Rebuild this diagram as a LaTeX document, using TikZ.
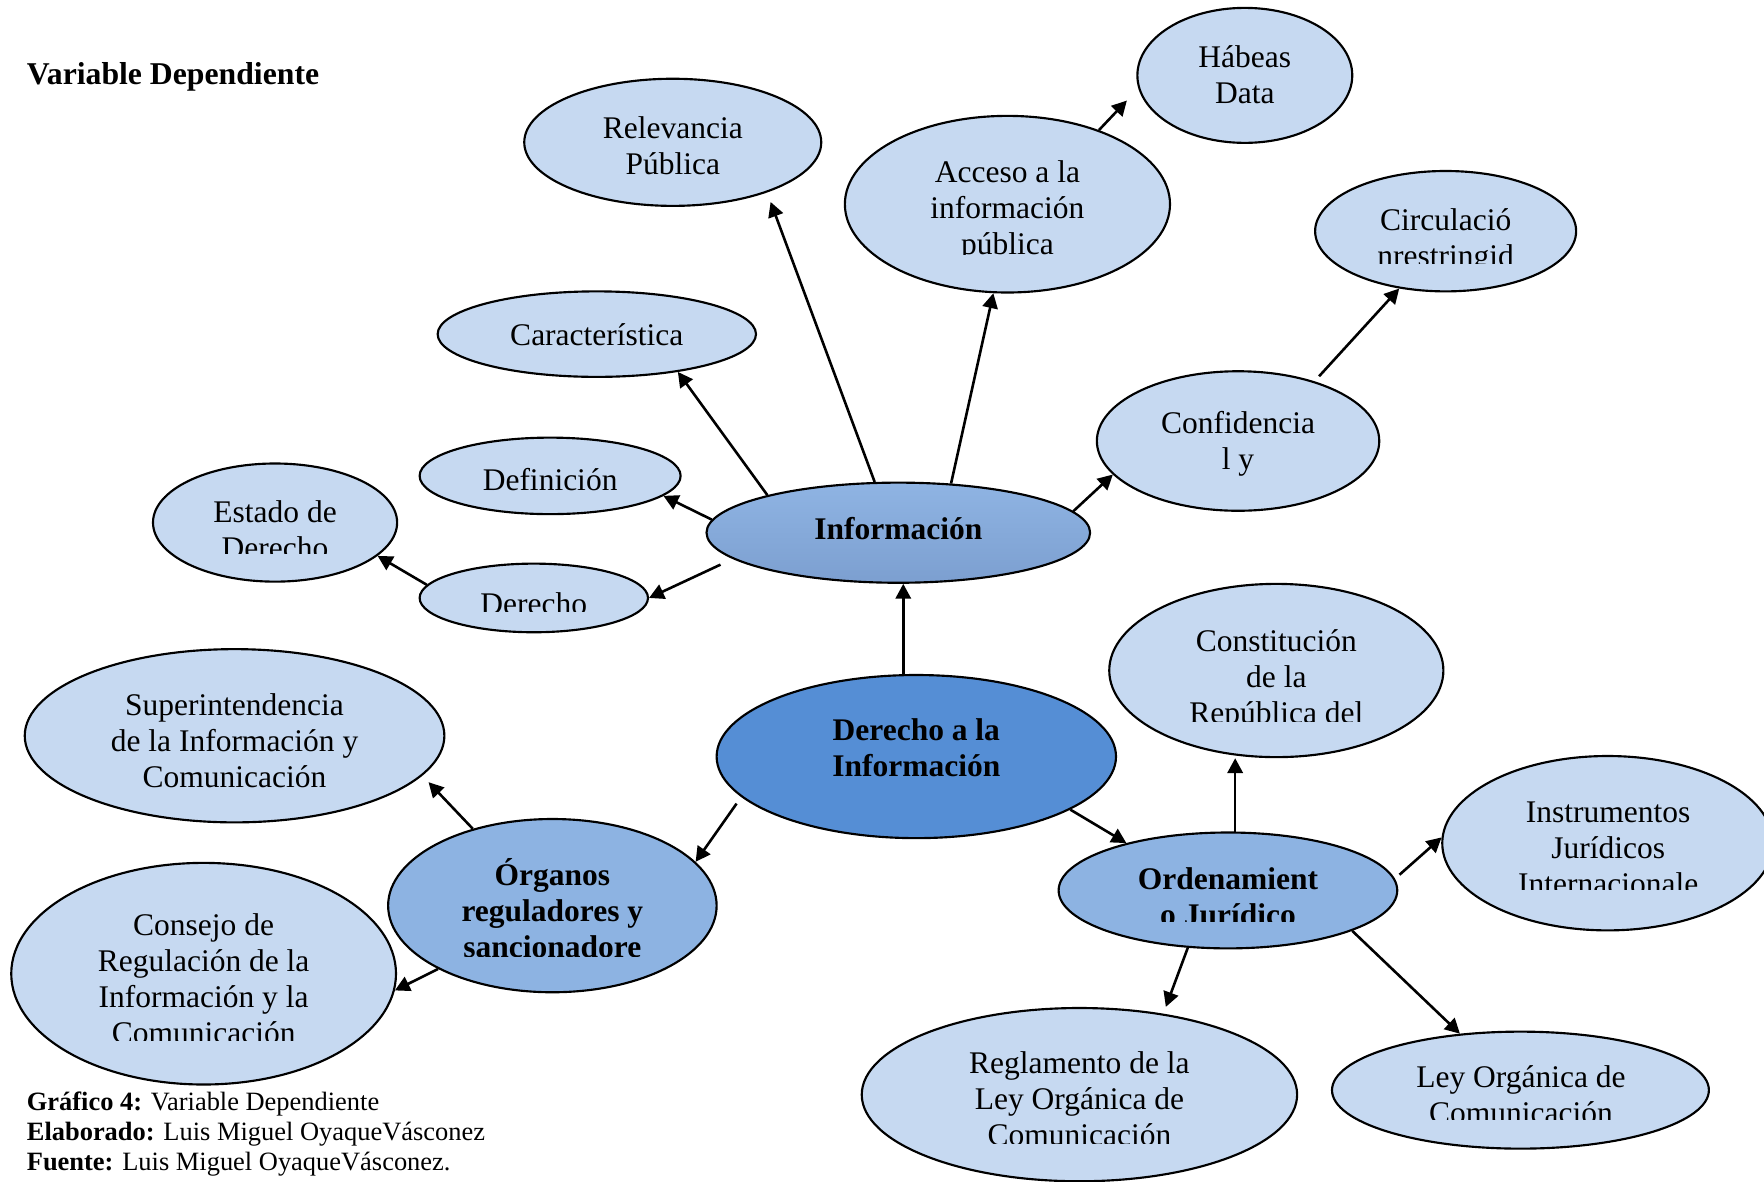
\documentclass[tikz,border=0pt]{standalone}
\usepackage{fontspec}
\setmainfont{Liberation Serif}
\usetikzlibrary{shapes.geometric,arrows.meta}
\definecolor{lightb}{RGB}{198,217,241}
\definecolor{midb}{RGB}{141,179,226}
\definecolor{darkb}{RGB}{85,142,213}
\definecolor{infotop}{RGB}{143,180,227}
\definecolor{infobot}{RGB}{124,159,208}
\newcommand\Ftop{\rule{0pt}{13pt}}
\begin{document}
\begin{tikzpicture}[x=0.5pt,y=-0.5pt,
  bub/.style={ellipse, draw=black, line width=0.95pt, inner sep=0pt, fill=lightb},
  midbub/.style={bub, fill=midb},
  txt/.style={anchor=north, inner sep=0pt, align=center, font=\fontsize{14}{16}\selectfont},
  btxt/.style={anchor=north, inner sep=0pt, align=center, font=\fontsize{14}{16}\selectfont\bfseries},
  captxt/.style={anchor=base west, inner sep=0pt, font=\fontsize{11.75}{13.5}\selectfont},
  arr/.style={-{Triangle[length=6.6pt,width=6.8pt]}, line width=1.15pt},
]
\fill[white] (0,0) rectangle (1568,1050);
\useasboundingbox (0,0) rectangle (1568,1050);

% title and caption
\node[captxt, font=\fontsize{14.1}{16}\selectfont\bfseries] (title) at (23.5,75.5) {Variable Dependiente};
\node[captxt] (cap1) at (23.5,987) {\textbf{Gráfico 4:} Variable Dependiente};
\node[captxt] (cap2) at (23.5,1013.5) {\textbf{Elaborado:} Luis Miguel OyaqueVásconez};
\node[captxt] (cap3) at (23.5,1040) {\textbf{Fuente:} Luis Miguel OyaqueVásconez.};

% ellipses
\node[bub, minimum width=132pt, minimum height=56.5pt] (rel) at (598,126.5) {};
\node[bub, minimum width=95.5pt, minimum height=60pt] (hab) at (1106.5,67) {};
\node[bub, minimum width=144.5pt, minimum height=78.5pt] (acc) at (895.5,181.5) {};
\node[bub, minimum width=116pt, minimum height=53.5pt] (cir) at (1285,205.5) {};
\node[bub, minimum width=141.5pt, minimum height=38pt] (car) at (530.5,297) {};
\node[bub, minimum width=125.5pt, minimum height=62pt] (con) at (1100.5,392) {};
\node[bub, minimum width=116pt, minimum height=34pt] (def) at (489,423) {};
\node[bub, minimum width=108.5pt, minimum height=52.5pt] (est) at (244.5,464.5) {};
\node[bub, top color=infotop, bottom color=infobot, minimum width=170.5pt, minimum height=44.5pt] (inf) at (798.5,473.5) {};
\node[bub, minimum width=101.5pt, minimum height=30.5pt] (der) at (474.5,531.5) {};
\node[bub, minimum width=148.5pt, minimum height=77pt] (cst) at (1134.5,596) {};
\node[bub, minimum width=186.5pt, minimum height=77pt] (sup) at (208.5,654) {};
\node[bub, fill=darkb, minimum width=177.5pt, minimum height=72.5pt] (dai) at (814.5,672.5) {};
\node[bub, minimum width=147pt, minimum height=77.5pt] (ins) at (1429,749.5) {};
\node[midbub, minimum width=146pt, minimum height=77pt] (org) at (491,805) {};
\node[midbub, minimum width=150.5pt, minimum height=51.5pt] (ord) at (1091.5,791.5) {};
\node[bub, minimum width=171pt, minimum height=98.5pt] (cjo) at (181,865.5) {};
\node[bub, minimum width=193.5pt, minimum height=77pt] (reg) at (959.5,973) {};
\node[bub, minimum width=167.5pt, minimum height=52pt] (ley) at (1351.5,969) {};

% texts
\node[txt] (trel) at (598,97) {\Ftop Relevancia\\Pública};
\node[txt] (thab) at (1106.5,34) {\Ftop Hábeas\\Data};
\begin{scope}\clip (751,100) rectangle (1040,226);
\node[txt] (tacc) at (895.5,136) {\Ftop Acceso a la\\información\\pública};
\end{scope}
\begin{scope}\clip (1169,150) rectangle (1401,234.5);
\node[txt] (tcir) at (1285,178.5) {\Ftop Circulació\\nrestringid};
\end{scope}
\node[txt] (tcar) at (530.5,280.7) {\Ftop Característica};
\node[txt] (tcon) at (1100.5,359) {\Ftop Confidencia\\l y};
\node[txt] (tdef) at (489,409.3) {\Ftop Definición};
\begin{scope}\clip (136,410) rectangle (353,492.3);
\node[txt] (test) at (244.5,437.8) {\Ftop Estado de\\Derecho};
\end{scope}
\node[btxt] (tinf) at (798.5,453.5) {\Ftop Información};
\begin{scope}\clip (373,500) rectangle (576,543.5);
\node[txt] (tder) at (474.5,520) {\Ftop Derecho};
\end{scope}
\begin{scope}\clip (986,517) rectangle (1283,641);
\node[txt] (tcst) at (1134.5,552.5) {\Ftop Constitución\\de la\\República del};
\end{scope}
\node[txt] (tsup) at (208.5,610) {\Ftop Superintendencia\\de la Información y\\Comunicación};
\node[btxt] (tdai) at (814.5,631.5) {\Ftop Derecho a la\\Información};
\begin{scope}\clip (1282,670) rectangle (1580,791);
\node[txt] (tins) at (1429.5,704.5) {\Ftop Instrumentos\\Jurídicos\\Internacionale};
\end{scope}
\begin{scope}\clip (345,726) rectangle (637,850.5);
\node[btxt] (torg) at (491,760.5) {\Ftop Órganos\\reguladores y\\sancionadore};
\end{scope}
\begin{scope}\clip (941,738) rectangle (1242,818.8);
\node[btxt] (tord) at (1091.5,764.3) {\Ftop Ordenamient\\o Jurídico};
\end{scope}
\begin{scope}\clip (10,765) rectangle (352,924.5);
\node[txt] (tcjo) at (181,805) {\Ftop Consejo de\\Regulación de la\\Información y la\\Comunicación};
\end{scope}
\begin{scope}\clip (766,894) rectangle (1153,1016.5);
\node[txt] (treg) at (959.5,928) {\Ftop Reglamento de la\\Ley Orgánica de\\Comunicación};
\end{scope}
\begin{scope}\clip (1184,915) rectangle (1519,995.5);
\node[txt] (tley) at (1352,940.5) {\Ftop Ley Orgánica de\\Comunicación};
\end{scope}

% connectors
\draw[arr, shorten >=4.5pt] (inf.115.3) -- (rel.-28.6);
\draw[arr] (inf.164.5) -- (car.-25.5);
\draw[arr] (inf.176) -- (def.-10.3);
\draw[arr, shorten <=6pt] (inf.189.8) -- (der.-0.9);
\draw[arr] (der.173.5) -- (est.-18.6);
\draw[arr] (inf.43.1) -- (acc.-99.8);
\draw[arr, shorten >=7.4pt] (acc.39.5) -- (hab.187.4);
\draw[arr] (inf.7) -- (con.195.4);
\draw[arr, shorten <=3pt] (con.38.2) -- (cir.-129.5);
\draw[arr] (dai.99) -- (dai.99 |- inf.south);
\draw[arr, shorten <=3.6pt] (dai.193.9) -- (org.17);
\draw[arr] (dai.-19.7) -- (ord.155.5);
\draw[arr, shorten >=4pt] (org.136.2) -- (sup.-12.5);
\draw[arr] (org.209) -- (cjo.-5.9);
\draw[arr] (ord.83.9) -- (ord.83.9 |- cst.south);
\draw[arr, shorten <=2.7pt] (ord.4.9) -- (ins.178.5);
\draw[arr, shorten >=3.2pt] (ord.-125.9) -- (reg.44.7);
\draw[arr] (ord.-18.8) -- (ley.137.9);
\end{tikzpicture}
\end{document}
